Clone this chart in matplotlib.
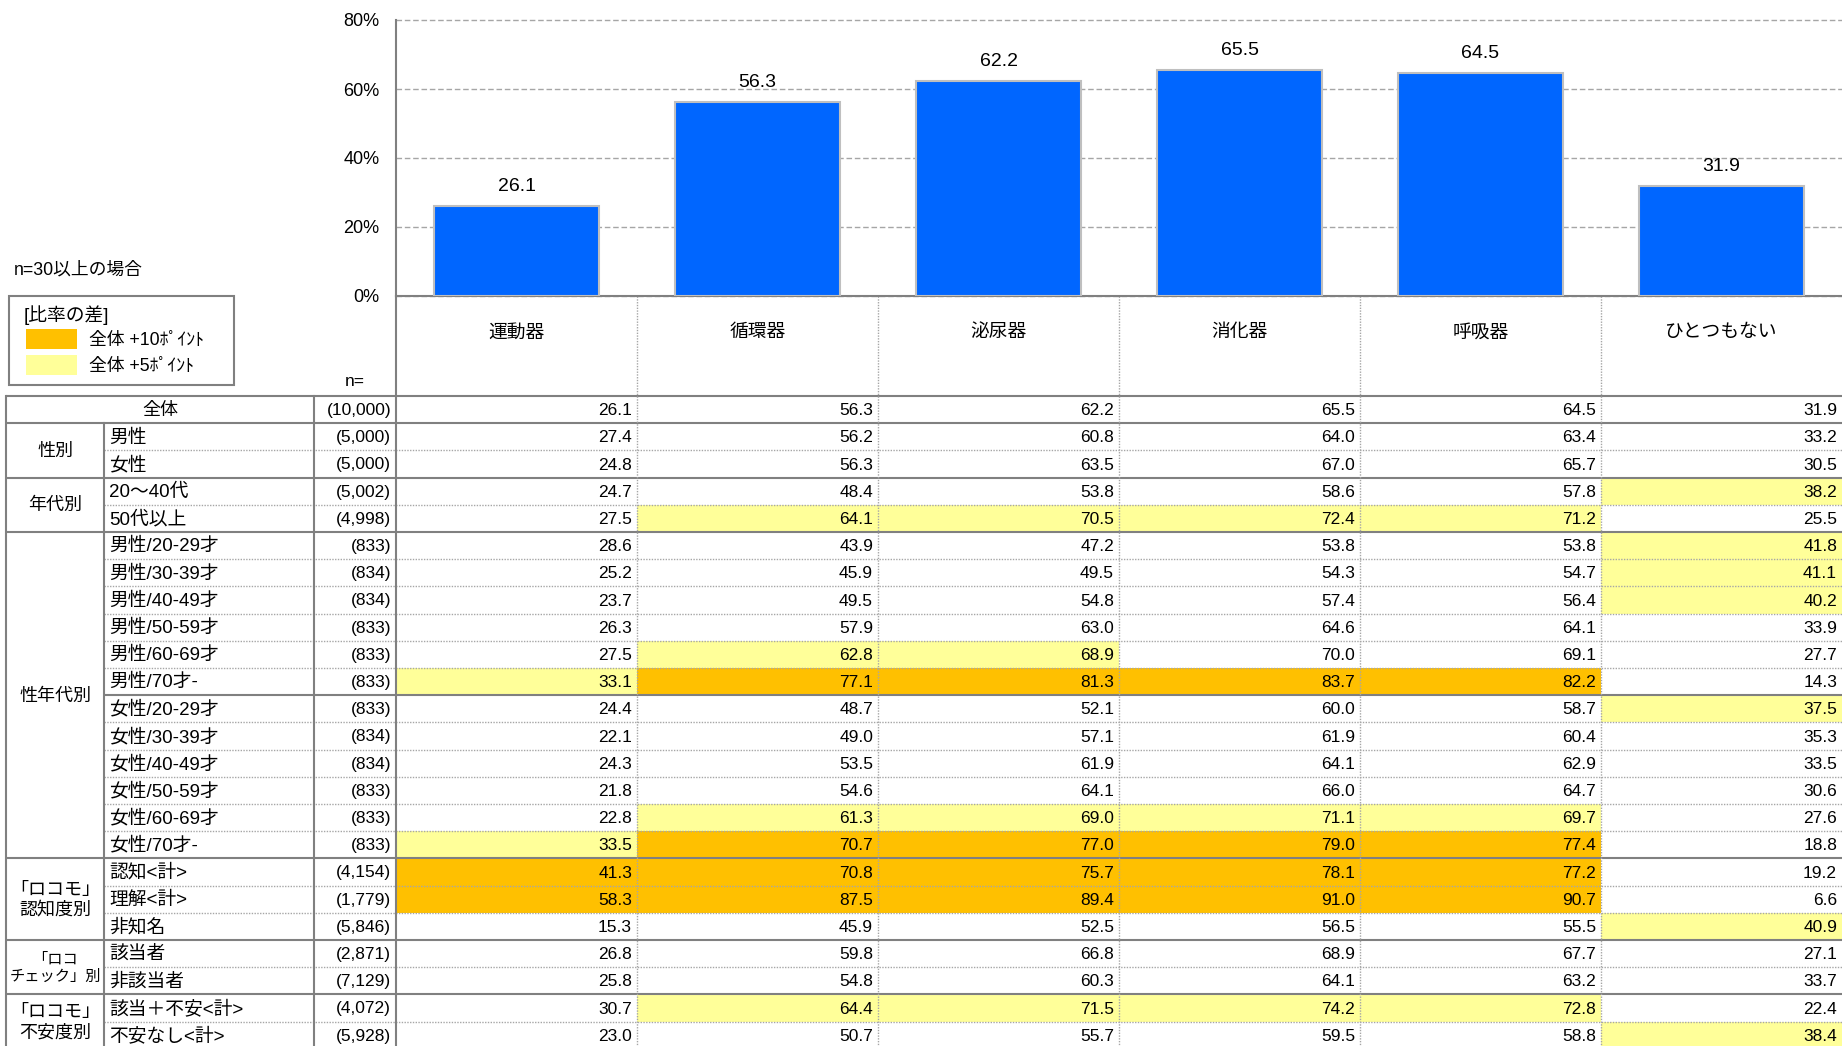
import matplotlib
matplotlib.use('Agg')
import matplotlib.pyplot as plt
from matplotlib.patches import Rectangle

plt.rcParams['font.family'] = ['Liberation Sans', 'Noto Sans CJK JP', 'DejaVu Sans']

# ---------------- data ----------------
categories = ['運動器', '循環器', '泌尿器', '消化器', '呼吸器', 'ひとつもない']
overall = [26.1, 56.3, 62.2, 65.5, 64.5, 31.9]

group_labels = ['全体', '性別', '年代別', '性年代別',
                '「ロコモ」\n認知度別', '「ロコ\nチェック」別', '「ロコモ」\n不安度別']
group_sizes = [1, 2, 2, 12, 3, 2, 2]
subgroup_breaks = [11]  # solid line in label area within 性年代別

row_labels = ['全体', '男性', '女性', '20～40代', '50代以上',
              '男性/20-29才', '男性/30-39才', '男性/40-49才', '男性/50-59才', '男性/60-69才', '男性/70才-',
              '女性/20-29才', '女性/30-39才', '女性/40-49才', '女性/50-59才', '女性/60-69才', '女性/70才-',
              '認知<計>', '理解<計>', '非知名', '該当者', '非該当者', '該当＋不安<計>', '不安なし<計>']
n_labels = ['(10,000)', '(5,000)', '(5,000)', '(5,002)', '(4,998)',
            '(833)', '(834)', '(834)', '(833)', '(833)', '(833)',
            '(833)', '(834)', '(834)', '(833)', '(833)', '(833)',
            '(4,154)', '(1,779)', '(5,846)', '(2,871)', '(7,129)', '(4,072)', '(5,928)']

undouki = [26.1, 27.4, 24.8, 24.7, 27.5, 28.6, 25.2, 23.7, 26.3, 27.5, 33.1,
           24.4, 22.1, 24.3, 21.8, 22.8, 33.5, 41.3, 58.3, 15.3, 26.8, 25.8, 30.7, 23.0]
junkanki = [56.3, 56.2, 56.3, 48.4, 64.1, 43.9, 45.9, 49.5, 57.9, 62.8, 77.1,
            48.7, 49.0, 53.5, 54.6, 61.3, 70.7, 70.8, 87.5, 45.9, 59.8, 54.8, 64.4, 50.7]
hinyouki = [62.2, 60.8, 63.5, 53.8, 70.5, 47.2, 49.5, 54.8, 63.0, 68.9, 81.3,
            52.1, 57.1, 61.9, 64.1, 69.0, 77.0, 75.7, 89.4, 52.5, 66.8, 60.3, 71.5, 55.7]
shoukaki = [65.5, 64.0, 67.0, 58.6, 72.4, 53.8, 54.3, 57.4, 64.6, 70.0, 83.7,
            60.0, 61.9, 64.1, 66.0, 71.1, 79.0, 78.1, 91.0, 56.5, 68.9, 64.1, 74.2, 59.5]
kokyuki = [64.5, 63.4, 65.7, 57.8, 71.2, 53.8, 54.7, 56.4, 64.1, 69.1, 82.2,
           58.7, 60.4, 62.9, 64.7, 69.7, 77.4, 77.2, 90.7, 55.5, 67.7, 63.2, 72.8, 58.8]
hitotsumo = [31.9, 33.2, 30.5, 38.2, 25.5, 41.8, 41.1, 40.2, 33.9, 27.7, 14.3,
             37.5, 35.3, 33.5, 30.6, 27.6, 18.8, 19.2, 6.6, 40.9, 27.1, 33.7, 22.4, 38.4]
columns = [undouki, junkanki, hinyouki, shoukaki, kokyuki, hitotsumo]

yticks = [0, 20, 40, 60, 80]
ytick_labels = ['0%', '20%', '40%', '60%', '80%']

# ---------------- style / layout ----------------
W, H = 1842, 1046
BLUE = '#0066FF'
ORANGE = '#FFC000'
YELLOW = '#FFFF99'
SOLID = '#808080'
DOT = '#A6A6A6'
FS = 12.5      # numbers
FSJ = 13.5     # japanese labels
FSG = 13       # group labels

X_LEFT, X_GRP, X_LAB, X_DATA = 6, 104, 314, 396
Y_ZERO, Y_TOP, Y_TABLE = 296, 20, 396
ROW_H = 27.2
COL_W = (W - X_DATA) / len(categories)

fig = plt.figure(figsize=(W / 100, H / 100), dpi=100)
ov = fig.add_axes([0, 0, 1, 1])
ov.set_xlim(0, W)
ov.set_ylim(H, 0)
ov.axis('off')

# ---------------- bar chart ----------------
bx = fig.add_axes([X_DATA / W, 1 - Y_ZERO / H, (W - X_DATA) / W, (Y_ZERO - Y_TOP) / H])
bx.set_xlim(-0.5, len(categories) - 0.5)
bx.set_ylim(0, 80)
bx.set_facecolor('none')
xs = list(range(len(categories)))
bx.bar(xs, overall, width=0.685, color=BLUE, edgecolor='#BFBFBF', linewidth=1.5, zorder=3)
for x, v in zip(xs, overall):
    bx.annotate(f'{v:.1f}', (x, v), xytext=(0, 8), textcoords='offset points',
                ha='center', va='bottom', fontsize=14, color='#000000')
bx.set_yticks(yticks)
bx.set_yticklabels(ytick_labels, fontsize=13)
bx.set_xticks([])
bx.tick_params(axis='y', length=0, pad=12)
bx.yaxis.grid(True, linestyle=(0, (4, 2)), color='#A6A6A6', linewidth=1, zorder=0)
for gl in bx.yaxis.get_gridlines():
    gl.set_clip_on(False)
bx.set_axisbelow(True)
for s in ['top', 'right']:
    bx.spines[s].set_visible(False)
for s in ['left', 'bottom']:
    bx.spines[s].set_color(SOLID)
    bx.spines[s].set_linewidth(1.5)

# ---------------- header ----------------
col_edges = [X_DATA + COL_W * k for k in range(len(categories) + 1)]
for k, c in enumerate(categories):
    ov.text((col_edges[k] + col_edges[k + 1]) / 2, 333, c, ha='center', va='center', fontsize=FSJ)
ov.text(345, 382, 'n=', ha='left', va='center', fontsize=FS)
ov.text(14, 270, 'n=30以上の場合', ha='left', va='center', fontsize=12.8)

# legend box
ov.add_patch(Rectangle((9, 296), 225, 89, facecolor='white', edgecolor=SOLID, linewidth=1.5))
ov.text(24, 315, '[比率の差]', ha='left', va='center', fontsize=13.5)
ov.add_patch(Rectangle((26, 329), 51, 20, facecolor=ORANGE, edgecolor='none'))
ov.add_patch(Rectangle((26, 355), 51, 20, facecolor=YELLOW, edgecolor='none'))
ov.text(89, 340, '全体 +10ﾎﾟｲﾝﾄ', ha='left', va='center', fontsize=12.8)
ov.text(89, 366, '全体 +5ﾎﾟｲﾝﾄ', ha='left', va='center', fontsize=12.8)

# ---------------- table ----------------
n_rows = len(row_labels)
row_top = [Y_TABLE + ROW_H * i for i in range(n_rows + 1)]

# cell fills and values
for k, col in enumerate(columns):
    for i, v in enumerate(col):
        diff = round(v - overall[k], 1)
        fc = ORANGE if diff >= 10 else (YELLOW if diff >= 5 else None)
        if fc:
            ov.add_patch(Rectangle((col_edges[k], row_top[i]), COL_W, ROW_H,
                                   facecolor=fc, edgecolor='none', zorder=1))
        ov.text(col_edges[k + 1] - 5, row_top[i] + ROW_H / 2 + 1, f'{v:.1f}',
                ha='right', va='center', fontsize=FS, zorder=4)

# row labels and n
for i, (lab, n) in enumerate(zip(row_labels, n_labels)):
    yc = row_top[i] + ROW_H / 2 + 1
    if i == 0:
        ov.text((X_LEFT + X_LAB) / 2, yc, lab, ha='center', va='center', fontsize=FSG)
    else:
        ov.text(X_GRP + 5, yc, lab, ha='left', va='center', fontsize=FSJ)
    ov.text(X_DATA - 5, yc, n, ha='right', va='center', fontsize=FS)

# group labels
group_bounds = [0]
for s in group_sizes:
    group_bounds.append(group_bounds[-1] + s)
for g, lab in enumerate(group_labels):
    if g == 0:
        continue
    yc = (row_top[group_bounds[g]] + row_top[group_bounds[g + 1]]) / 2 + 1
    fs = 11 if 'チェック' in lab else FSG
    ov.text((X_LEFT + X_GRP) / 2, yc, lab, ha='center', va='center',
            fontsize=fs, linespacing=1.35 if fs < FSG else 1.25)

# horizontal lines
for i in range(n_rows + 1):
    y = row_top[i]
    if i in group_bounds:
        ov.plot([X_LEFT, W], [y, y], color=SOLID, lw=1.5, zorder=5, solid_capstyle='butt')
    elif i in subgroup_breaks:
        ov.plot([X_GRP, W], [y, y], color=SOLID, lw=1.5, zorder=5, solid_capstyle='butt')
    else:
        ov.plot([X_GRP, W], [y, y], color=DOT, lw=1, ls=(0, (1, 1)), zorder=5)

# vertical lines
ov.plot([X_LEFT, X_LEFT], [Y_TABLE, H], color=SOLID, lw=1.5, zorder=5)
ov.plot([X_GRP, X_GRP], [row_top[1], H], color=SOLID, lw=1.5, zorder=5)
ov.plot([X_LAB, X_LAB], [Y_TABLE, H], color=SOLID, lw=1.5, zorder=5)
ov.plot([X_DATA, X_DATA], [Y_ZERO, H], color=SOLID, lw=1.5, zorder=5)
for x in col_edges[1:-1]:
    ov.plot([x, x], [Y_ZERO, H], color=DOT, lw=1, ls=(0, (1, 1)), zorder=5)

fig.savefig('out.png', dpi=100)
